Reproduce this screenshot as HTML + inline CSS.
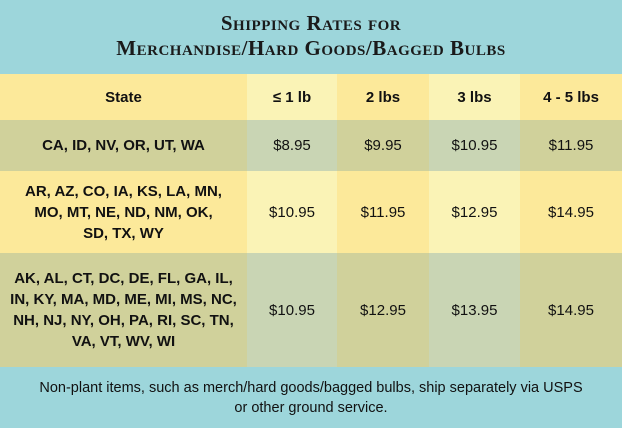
<!DOCTYPE html>
<html><head><meta charset="utf-8"><style>
body{margin:0;width:622px;height:428px;background:#9dd6db;font-family:"Liberation Sans",sans-serif;overflow:hidden;position:relative}
.title{position:absolute;top:0;left:0;width:622px;height:74px;text-align:center;font-family:"Liberation Serif",serif;font-variant:small-caps;font-weight:bold;color:#1a1a1a;font-size:21px;line-height:25px;padding-top:11px;box-sizing:border-box;letter-spacing:0.5px}
table{position:absolute;top:74px;left:0;width:622px;border-collapse:collapse;table-layout:fixed}
td{padding:0;text-align:center;color:#111;font-size:15px}
tr.h td{height:46px;font-weight:bold;background:#fce99a}
tr.h td.l{background:#faf3b6}
tr.r1 td{height:51px;background:#d0d19b}
tr.r1 td.l{background:#c9d5b4}
tr.r2 td{height:82px;background:#fce99a}
tr.r2 td.l{background:#faf3b6}
tr.r3 td{height:114px;background:#d0d19b}
tr.r3 td.l{background:#c9d5b4}
td.s{font-weight:bold;line-height:21px;padding:0 6px}
.foot{position:absolute;top:378px;left:0;width:622px;text-align:center;font-size:14.5px;line-height:20px;color:#111}
</style></head><body>
<div class="title">Shipping Rates for<br>Merchandise/Hard Goods/Bagged Bulbs</div>
<table>
<colgroup><col style="width:247px"><col style="width:90px"><col style="width:92px"><col style="width:91px"><col style="width:102px"></colgroup>
<tr class="h"><td>State</td><td class="l">≤ 1 lb</td><td>2 lbs</td><td class="l">3 lbs</td><td>4 - 5 lbs</td></tr>
<tr class="r1"><td class="s">CA, ID, NV, OR, UT, WA</td><td class="l">$8.95</td><td>$9.95</td><td class="l">$10.95</td><td>$11.95</td></tr>
<tr class="r2"><td class="s">AR, AZ, CO, IA, KS, LA, MN,<br>MO, MT, NE, ND, NM, OK,<br>SD, TX, WY</td><td class="l">$10.95</td><td>$11.95</td><td class="l">$12.95</td><td>$14.95</td></tr>
<tr class="r3"><td class="s">AK, AL, CT, DC, DE, FL, GA, IL,<br>IN, KY, MA, MD, ME, MI, MS, NC,<br>NH, NJ, NY, OH, PA, RI, SC, TN,<br>VA, VT, WV, WI</td><td class="l">$10.95</td><td>$12.95</td><td class="l">$13.95</td><td>$14.95</td></tr>
</table>
<div class="foot">Non-plant items, such as merch/hard goods/bagged bulbs, ship separately via USPS<br>or other ground service.</div>
</body></html>
